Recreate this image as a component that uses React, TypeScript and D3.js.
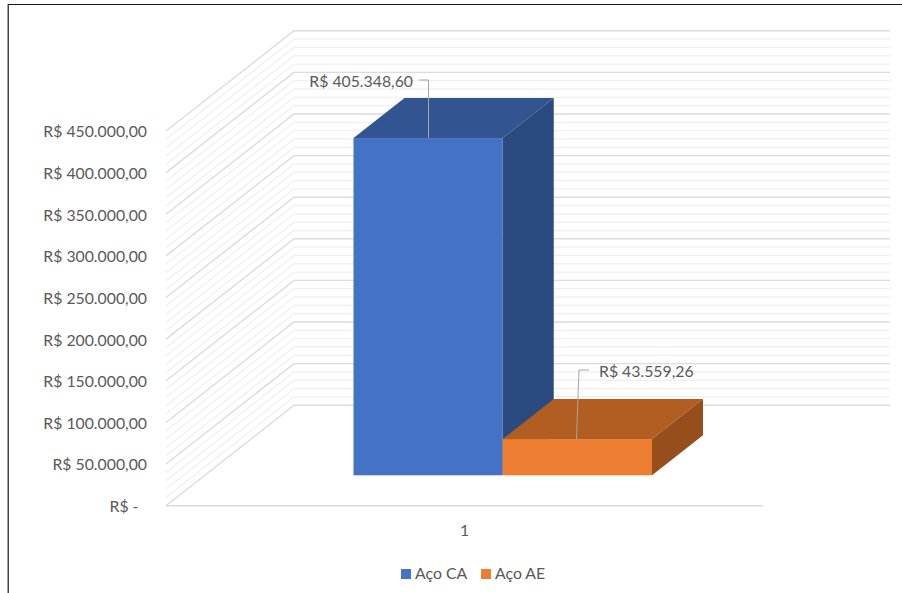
import React from "react";
import * as d3 from "d3";

// Steel cost per type, drawn as a pseudo-3D clustered column chart
const categories = ["1"];
const seriesNames = ["Aço CA", "Aço AE"];
const seriesValues = [405348.6, 43559.26];
const axisTicks = [0, 50000, 100000, 150000, 200000, 250000, 300000, 350000, 400000, 450000];
const minorStep = 10000;
const frontColors = ["#4472c4", "#ed7d31"];
const topColors = ["#325591", "#b25d22"];
const sideColors = ["#2b4a7f", "#964f1c"];

const brl = d3.formatLocale({
  decimal: ",",
  thousands: ".",
  grouping: [3],
  currency: ["R$ ", ""],
}).format("$,.2f");

const WIDTH = 902;
const HEIGHT = 593;
const FONT = "Lato, 'Noto Sans', sans-serif";
const TEXT = "#595959";
const FONT_SIZE = 15.8;

// Projection of the chart box: front plane and back wall share a vertical scale
const yFront = d3.scaleLinear().domain([0, 450000]).range([505.7, 131]);
const yBack = d3.scaleLinear().domain([0, 450000]).range([405.2, 30.8]);
const yBar = d3.scaleLinear().domain([0, 450000]).range([475.3, 100.9]);
const xFront = { left: 166, right: 763 };
const xBack = { left: 294, right: 890 };
const xBar = d3.scaleBand().domain(seriesNames).range([353.5, 652]);
const barDepth = { dx: 51, dy: 40 };

const pts = (p: [number, number][]) => p.map((d) => d.join(",")).join(" ");

function Column({ index }: { index: number }) {
  const name = seriesNames[index];
  const x0 = xBar(name) as number;
  const x1 = x0 + xBar.bandwidth();
  const y0 = yBar(0);
  const y1 = yBar(seriesValues[index]);
  const { dx, dy } = barDepth;
  return (
    <g>
      <polygon
        fill={topColors[index]}
        points={pts([[x0, y1], [x1, y1], [x1 + dx, y1 - dy], [x0 + dx, y1 - dy]])}
      />
      <polygon
        fill={sideColors[index]}
        points={pts([[x1, y1], [x1 + dx, y1 - dy], [x1 + dx, y0 - dy], [x1, y0]])}
      />
      <rect x={x0} y={y1} width={x1 - x0} height={y0 - y1} fill={frontColors[index]} />
    </g>
  );
}

export default function App() {
  const minorTicks = d3.range(0, 450000 + minorStep, minorStep).filter((v) => !axisTicks.includes(v));
  const gridPath = (v: number) =>
    `M${xFront.left},${yFront(v)}L${xBack.left},${yBack(v)}L${xBack.right},${yBack(v)}`;

  const tickLabel = (v: number) => (v === 0 ? "R$ -" : brl(v));

  const caTop = yBar(seriesValues[0]);
  const aeTop = yBar(seriesValues[1]);

  return (
    <svg
      width={WIDTH}
      height={HEIGHT}
      viewBox={`0 0 ${WIDTH} ${HEIGHT}`}
      style={{ position: "absolute", left: 0, top: 0, background: "#fff" }}
      fontFamily={FONT}
    >
      {/* Outer chart border, open on the right and at the bottom */}
      <path d={`M8.2,${HEIGHT}V4.5H${WIDTH}`} fill="none" stroke="#1a1a1a" strokeWidth={1.2} />

      {/* Walls: minor then major gridlines */}
      <g fill="none" stroke="#f0f0f0" strokeWidth={1.3}>
        {minorTicks.map((v) => (
          <path key={v} d={gridPath(v)} />
        ))}
      </g>
      <g fill="none" stroke="#dcdcdc" strokeWidth={1.4}>
        {axisTicks.map((v) => (
          <path key={v} d={gridPath(v)} />
        ))}
        <path d={`M${xFront.left},${yFront(0)}H${xFront.right}`} />
      </g>

      {/* Value axis */}
      <g fontSize={FONT_SIZE} fill={TEXT} textAnchor="end">
        {axisTicks.map((v) => (
          <text key={v} x={v === 0 ? 138.5 : 147} y={yFront(v) + 1} dy="0.34em">
            {tickLabel(v)}
          </text>
        ))}
      </g>

      {/* Category axis */}
      <text x={464.5} y={530.5} dy="0.34em" fontSize={FONT_SIZE} fill={TEXT} textAnchor="middle">
        {categories[0]}
      </text>

      {seriesNames.map((_, i) => (
        <Column key={i} index={i} />
      ))}

      {/* Data labels with leader lines */}
      <g fill="none" stroke="#a6a6a6" strokeWidth={1}>
        <path d={`M419,80H428.5V${caTop}`} />
        <path d={`M589,370H579L576.5,${aeTop}`} />
      </g>
      <g fontSize={FONT_SIZE} fill={TEXT}>
        <text x={413} y={81.5} dy="0.34em" textAnchor="end">
          {brl(seriesValues[0])}
        </text>
        <text x={599} y={371.5} dy="0.34em">
          {brl(seriesValues[1])}
        </text>
      </g>

      {/* Legend */}
      <g fontSize={FONT_SIZE} fill={TEXT}>
        <rect x={401} y={569} width={10} height={10} fill={frontColors[0]} />
        <text x={415} y={574} dy="0.34em">
          {seriesNames[0]}
        </text>
        <rect x={481} y={569} width={10} height={10} fill={frontColors[1]} />
        <text x={495} y={574} dy="0.34em">
          {seriesNames[1]}
        </text>
      </g>
    </svg>
  );
}
